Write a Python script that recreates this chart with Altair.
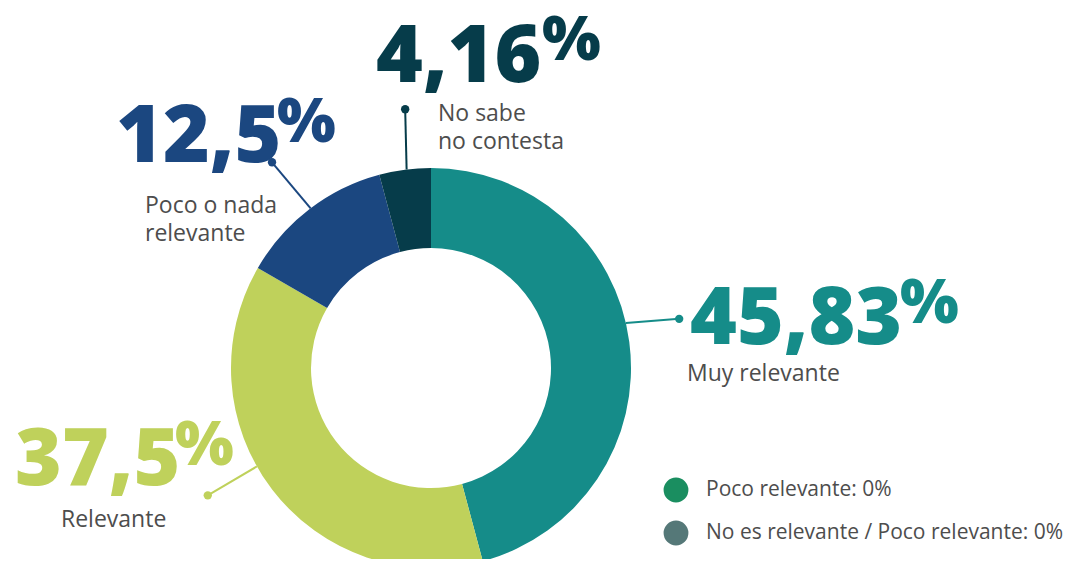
import math
import altair as alt
import pandas as pd

# ---- data ----
categories = ["Muy relevante", "Relevante", "Poco o nada relevante", "No sabe no contesta"]
values = [45.83, 37.5, 12.5, 4.16]
number_labels = ["45,83", "37,5", "12,5", "4,16"]
sub_labels = ["Muy relevante", "Relevante", "Poco o nada\nrelevante", "No sabe\nno contesta"]
colors = ["#158C89", "#BFD15B", "#1B4780", "#063C4A"]

legend_labels = ["Poco relevante: 0%", "No es relevante / Poco relevante: 0%"]
legend_colors = ["#1A8E60", "#557878"]

# ---- layout (pixels inside the plot area; page minus 8px margin) ----
M = 8
CX, CY = 431 - M, 368 - M
R_OUT, R_IN = 200, 120
# leader: start angle, start radius, end angle, end radius (degrees clockwise from 12 o'clock)
leaders = [(77, 200, 78.8, 253), (240.5, 200, 240.3, 257), (323, 200, 322.3, 260), (353, 200, 354.3, 260)]
num_pos = [(690, 344), (15, 485), (116, 162), (376, 82)]
pct_pos = [(900, 323), (175, 465), (277, 142), (542, 60)]
sub_pos = [(687, 381), (61, 527), (145, 213), (438, 121)]

df = pd.DataFrame({
    "category": categories,
    "value": values,
    "num": number_labels,
    "sub": sub_labels,
    "order": list(range(len(categories))),
})

def polar(a, r):
    t = math.radians(a)
    return CX + r * math.sin(t), CY - r * math.cos(t)

df["lx1"] = [polar(a1, r1)[0] for a1, r1, a2, r2 in leaders]
df["ly1"] = [polar(a1, r1)[1] for a1, r1, a2, r2 in leaders]
df["lx2"] = [polar(a2, r2)[0] for a1, r1, a2, r2 in leaders]
df["ly2"] = [polar(a2, r2)[1] for a1, r1, a2, r2 in leaders]
df["nx"] = [p[0] - M for p in num_pos]
df["ny"] = [p[1] - M for p in num_pos]
df["px"] = [p[0] - M for p in pct_pos]
df["py"] = [p[1] - M for p in pct_pos]
df["sx"] = [p[0] - M for p in sub_pos]
df["sy"] = [p[1] - M for p in sub_pos]
df["pct"] = "%"

color_enc = alt.Color("category:N", scale=alt.Scale(domain=categories, range=colors), legend=None)

base = alt.Chart(df)

ring = base.mark_arc(innerRadius=R_IN, outerRadius=R_OUT).encode(
    theta=alt.Theta("value:Q", stack=True),
    order=alt.Order("order:Q"),
    color=color_enc,
    x=alt.value(CX),
    y=alt.value(CY),
)

lines = base.mark_rule(strokeWidth=2).encode(
    x=alt.X("lx1:Q", scale=None), y=alt.Y("ly1:Q", scale=None),
    x2="lx2:Q", y2="ly2:Q",
    color=color_enc,
)

dots = base.mark_circle(size=70, opacity=1).encode(
    x=alt.X("lx2:Q", scale=None), y=alt.Y("ly2:Q", scale=None),
    color=color_enc,
)

nums = base.mark_text(font="Open Sans", fontWeight=800, fontSize=80, align="left",
                      baseline="alphabetic").encode(
    x=alt.X("nx:Q", scale=None), y=alt.Y("ny:Q", scale=None),
    text="num:N", color=color_enc,
)

pcts = base.mark_text(font="Open Sans", fontWeight=800, fontSize=62, align="left",
                      baseline="alphabetic").encode(
    x=alt.X("px:Q", scale=None), y=alt.Y("py:Q", scale=None),
    text="pct:N", color=color_enc,
)

subs = base.mark_text(font="Open Sans", fontSize=23, align="left", baseline="alphabetic",
                      lineBreak="\n", lineHeight=28, color="#4D4D4D").encode(
    x=alt.X("sx:Q", scale=None), y=alt.Y("sy:Q", scale=None),
    text="sub:N",
)

leg = pd.DataFrame({"label": legend_labels, "color": legend_colors,
                    "i": list(range(len(legend_labels)))})
leg_base = alt.Chart(leg).transform_calculate(ly="482 + datum.i * 43")

leg_dots = leg_base.mark_circle(size=616, opacity=1).encode(
    x=alt.value(668), y=alt.Y("ly:Q", scale=None),
    color=alt.Color("color:N", scale=None),
)
leg_text = leg_base.mark_text(font="Open Sans", fontSize=21, align="left", baseline="middle",
                              color="#4D4D4D").encode(
    x=alt.value(698), y=alt.Y("ly:Q", scale=None), text="label:N",
)

chart = alt.layer(ring, lines, dots, nums, pcts, subs, leg_dots, leg_text).properties(
    width=1060, height=551, padding=0, autosize=alt.AutoSizeParams(type="none"),
    background="white",
).configure_view(stroke=None)

chart.save("out.html", embed_options={"renderer": "svg", "actions": False})
